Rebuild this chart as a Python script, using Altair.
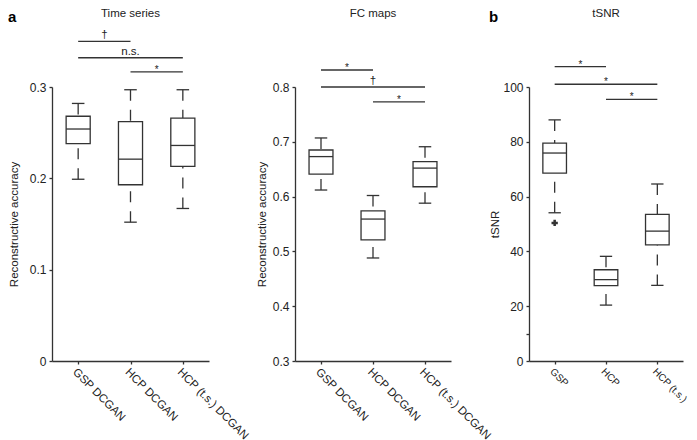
import altair as alt
import pandas as pd

FONT = "Liberation Sans"
INK = "#333333"
TXT = "#222222"
SW = 1.3
BOX_HALF = 0.23
CAP_HALF = 0.12

# ---- panel a: Time series ----
ts_cats = ["GSP DCGAN", "HCP DCGAN", "HCP (t.s.) DCGAN"]
ts_low = [0.199, 0.152, 0.167]
ts_q1 = [0.238, 0.193, 0.213]
ts_med = [0.254, 0.221, 0.236]
ts_q3 = [0.268, 0.262, 0.266]
ts_high = [0.282, 0.297, 0.297]
ts_sig_from = [0, 0, 1]
ts_sig_to = [1, 2, 2]
ts_sig_y = [0.350, 0.332, 0.3165]
ts_sig_label = ["†", "n.s.", "*"]
ts_ticks = [0, 0.1, 0.2, 0.3]
ts_tick_labels = ["0", "0.1", "0.2", "0.3"]

# ---- panel a: FC maps ----
fc_cats = ["GSP DCGAN", "HCP DCGAN", "HCP (t.s.) DCGAN"]
fc_low = [0.612, 0.488, 0.588]
fc_q1 = [0.641, 0.521, 0.618]
fc_med = [0.673, 0.559, 0.652]
fc_q3 = [0.685, 0.574, 0.664]
fc_high = [0.707, 0.602, 0.691]
fc_sig_from = [0, 0, 1]
fc_sig_to = [1, 2, 2]
fc_sig_y = [0.831, 0.800, 0.773]
fc_sig_label = ["*", "†", "*"]
fc_ticks = [0.3, 0.4, 0.5, 0.6, 0.7, 0.8]
fc_tick_labels = ["0.3", "0.4", "0.5", "0.6", "0.7", "0.8"]

# ---- panel b: tSNR ----
tsnr_cats = ["GSP", "HCP", "HCP (t.s.)"]
tsnr_low = [54.1, 20.4, 27.6]
tsnr_q1 = [68.6, 27.5, 42.4]
tsnr_med = [75.9, 29.7, 47.4]
tsnr_q3 = [79.5, 33.3, 53.5]
tsnr_high = [88.0, 38.2, 64.6]
tsnr_out_pos = [0]
tsnr_out_val = [50.4]
tsnr_sig_from = [0, 0, 1]
tsnr_sig_to = [1, 2, 2]
tsnr_sig_y = [107.4, 101.0, 95.5]
tsnr_sig_label = ["*", "*", "*"]
tsnr_ticks = [0, 10, 20, 40, 60, 80, 100]
tsnr_tick_labels = ["0", "", "20", "40", "60", "80", "100"]


def label_expr(values, labels):
    parts = [f"abs(datum.value - {v}) < 1e-9 ? '{l}'" for v, l in zip(values, labels)]
    return " : ".join(parts) + " : ''"


def panel(cats, low, q1, med, q3, high, ydom, yticks, ylabels, ytitle, title,
          sfrom, sto, sy, slabel, width, axis_len, title_pad,
          letter=None, out_pos=None, out_val=None, height=274, xlabel_size=11.5):
    pos = list(range(len(cats)))
    df = pd.DataFrame(dict(pos=pos, low=low, q1=q1, med=med, q3=q3, high=high))
    df["bl"] = df["pos"] - BOX_HALF
    df["br"] = df["pos"] + BOX_HALF
    df["cl"] = df["pos"] - CAP_HALF
    df["cr"] = df["pos"] + CAP_HALF

    xscale = alt.Scale(domain=[-0.5, len(cats) - 0.5], range=[0, axis_len], nice=False, zero=False)
    yscale = alt.Scale(domain=ydom, nice=False, zero=False)
    xaxis = alt.Axis(values=pos, labelExpr=label_expr(pos, cats), labelAngle=45,
                     labelAlign="left", labelBaseline="top", title=None, grid=False,
                     tickSize=3, labelPadding=2, labelFontSize=xlabel_size, labelOverlap=False)
    yaxis = alt.Axis(values=yticks, labelExpr=label_expr(yticks, ylabels), title=ytitle,
                     titlePadding=title_pad, grid=False, tickSize=3, labelPadding=3,
                     labelOverlap=False)

    base = alt.Chart(df)
    X = lambda f: alt.X(f"{f}:Q", scale=xscale, axis=xaxis)
    Y = lambda f: alt.Y(f"{f}:Q", scale=yscale, axis=yaxis)

    dash = dict(color=INK, strokeWidth=SW, strokeDash=[11, 9])
    solid = dict(color=INK, strokeWidth=SW)
    layers = [
        base.mark_rule(**dash).encode(x=X("pos"), y=Y("high"), y2="q3"),
        base.mark_rule(**dash).encode(x=X("pos"), y=Y("low"), y2="q1"),
        base.mark_rule(**solid).encode(x=X("cl"), x2="cr", y=Y("high")),
        base.mark_rule(**solid).encode(x=X("cl"), x2="cr", y=Y("low")),
        base.mark_rect(fill="white", stroke=INK, strokeWidth=SW).encode(
            x=X("bl"), x2="br", y=Y("q1"), y2="q3"),
        base.mark_rule(**solid).encode(x=X("bl"), x2="br", y=Y("med")),
    ]
    if out_pos is not None:
        odf = pd.DataFrame(dict(pos=out_pos, val=out_val))
        layers.append(alt.Chart(odf).mark_point(shape="cross", filled=True, size=40,
                                                color=INK, opacity=1).encode(
            x=X("pos"), y=Y("val")))

    sdf = pd.DataFrame(dict(x1=sfrom, x2=sto, y=sy, label=slabel))
    sdf["xm"] = (sdf["x1"] + sdf["x2"]) / 2
    sbase = alt.Chart(sdf)
    layers.append(sbase.mark_rule(**solid).encode(x=X("x1"), x2="x2", y=Y("y")))
    layers.append(sbase.transform_filter("datum.label != '*'").mark_text(
        baseline="alphabetic", dy=-3, fontSize=11.5, font=FONT, color=TXT).encode(
        x=X("xm"), y=Y("y"), text="label:N"))
    layers.append(sbase.transform_filter("datum.label == '*'").mark_text(
        baseline="alphabetic", dy=1, fontSize=10, font=FONT, color=TXT).encode(
        x=X("xm"), y=Y("y"), text="label:N"))

    tdf = pd.DataFrame(dict(t=[title]))
    layers.append(alt.Chart(tdf).mark_text(baseline="alphabetic", align="center",
                                           fontSize=11.5, font=FONT, color=TXT).encode(
        x=alt.value(axis_len / 2), y=alt.value(-70), text="t:N"))
    if letter is not None:
        ldf = pd.DataFrame(dict(t=[letter[0]]))
        layers.append(alt.Chart(ldf).mark_text(baseline="alphabetic", align="left",
                                               fontSize=15, fontWeight="bold",
                                               font=FONT, color="#000").encode(
            x=alt.value(letter[1]), y=alt.value(-65), text="t:N"))

    return alt.layer(*layers).properties(width=width, height=height)


pa = panel(ts_cats, ts_low, ts_q1, ts_med, ts_q3, ts_high, [0, 0.3], ts_ticks,
           ts_tick_labels, "Reconstructive accuracy", "Time series",
           ts_sig_from, ts_sig_to, ts_sig_y, ts_sig_label,
           width=165, axis_len=157, title_pad=10, letter=("a", -44))
pf = panel(fc_cats, fc_low, fc_q1, fc_med, fc_q3, fc_high, [0.3, 0.8], fc_ticks,
           fc_tick_labels, "Reconstructive accuracy", "FC maps",
           fc_sig_from, fc_sig_to, fc_sig_y, fc_sig_label,
           width=156, axis_len=156, title_pad=5)
pb = panel(tsnr_cats, tsnr_low, tsnr_q1, tsnr_med, tsnr_q3, tsnr_high, [0, 100],
           tsnr_ticks, tsnr_tick_labels, "tSNR", "tSNR",
           tsnr_sig_from, tsnr_sig_to, tsnr_sig_y, tsnr_sig_label,
           width=154, axis_len=154, title_pad=2, letter=("b", -40),
           out_pos=tsnr_out_pos, out_val=tsnr_out_val, xlabel_size=10)

chart = alt.hconcat(pa, pf, pb, spacing=78, bounds="flush").properties(
    padding={"left": 0, "top": 0, "right": 0, "bottom": 0}
).configure_view(stroke=None).configure_axis(
    domainColor=INK, domainWidth=SW, tickColor=INK, tickWidth=SW,
    labelFont=FONT, labelFontSize=12, labelColor=TXT,
    titleFont=FONT, titleFontSize=11.5, titleFontWeight="normal", titleColor=TXT,
)

chart.save("out.html", embed_options={"renderer": "svg", "actions": False})
